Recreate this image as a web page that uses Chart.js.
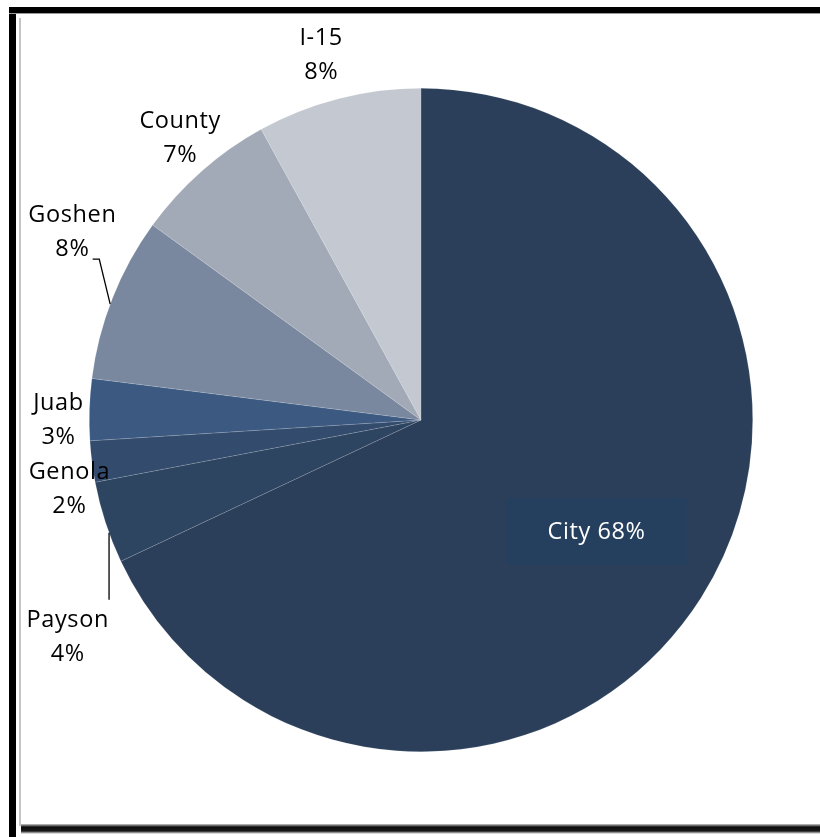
<!DOCTYPE html>
<html>
<head>
<meta charset="utf-8">
<script src="https://cdn.jsdelivr.net/npm/chart.js@4.4.1/dist/chart.umd.min.js"></script>
<style>
  html, body { margin: 0; padding: 0; background: #ffffff; }
  #wrap { width: 820px; height: 837px; position: relative; }
</style>
</head>
<body>
<div id="wrap"><canvas id="pie" width="820" height="837"></canvas></div>
<script>
// Share of the total, clockwise from 12 o'clock
const categories = ['City', 'Payson', 'Genola', 'Juab', 'Goshen', 'County', 'I-15'];
const shares = [68, 4, 2, 3, 8, 7, 8];
const sliceColors = ['#2b3f5a', '#2e4562', '#334b6c', '#3c5a81', '#7a889f', '#a3aab7', '#c3c8d1'];

// Outside label anchors, in units of the pie radius from its centre (line 1 centre)
const outsideLabelAt = {
  'Payson': [-1.065, 0.605],
  'Genola': [-1.060, 0.157],
  'Juab':   [-1.093, -0.051],
  'Goshen': [-1.051, -0.617],
  'County': [-0.726, -0.901],
  'I-15':   [-0.301, -1.150]
};

const FONT = '"Open Sans", "Noto Sans", sans-serif';

// Frame: black bars on the left/top, thin grey border and a drop shadow at the bottom
const framePlugin = {
  id: 'frame',
  beforeDraw(chart) {
    const ctx = chart.ctx;
    ctx.save();
    ctx.fillStyle = '#ffffff';
    ctx.fillRect(0, 0, chart.width, chart.height);
    ctx.fillStyle = '#000000';
    ctx.fillRect(9, 7, 7, chart.height - 7);
    ctx.fillRect(9, 7, chart.width - 9, 6);
    ctx.fillStyle = '#9a9a9a';
    ctx.fillRect(9, 13, chart.width - 9, 1);
    ctx.fillStyle = '#c4c4c4';
    ctx.fillRect(19, 18, 2, 808);
    const g = ctx.createLinearGradient(0, 824, 0, 834);
    g.addColorStop(0, 'rgba(0,0,0,0.2)');
    g.addColorStop(0.3, 'rgba(0,0,0,0.95)');
    g.addColorStop(0.7, 'rgba(0,0,0,0.9)');
    g.addColorStop(1, 'rgba(0,0,0,0.0)');
    ctx.fillStyle = g;
    ctx.fillRect(21, 824, chart.width - 21, 10);
    ctx.restore();
  }
};

// Category + percentage labels, leader lines and the boxed label inside the largest slice
const labelPlugin = {
  id: 'pieLabels',
  afterDatasetsDraw(chart) {
    const ctx = chart.ctx;
    const meta = chart.getDatasetMeta(0);
    const arc0 = meta.data[0];
    const cx = arc0.x, cy = arc0.y, R = arc0.outerRadius;
    const total = shares.reduce((a, b) => a + b, 0);
    ctx.save();
    ctx.textAlign = 'center';
    ctx.textBaseline = 'middle';
    ctx.letterSpacing = '0.6px';

    meta.data.forEach((arc, i) => {
      const name = categories[i];
      const pct = Math.round(shares[i] / total * 100) + '%';
      if (i === 0) {
        const mid = (arc.startAngle + arc.endAngle) / 2;
        const bx = cx + Math.cos(mid) * R * 0.627;
        const by = cy + Math.sin(mid) * R * 0.627;
        const w = 180, h = 67;
        ctx.fillStyle = '#25405f';
        ctx.beginPath();
        ctx.roundRect(bx - w / 2, by - h / 2, w, h, 4);
        ctx.fill();
        ctx.fillStyle = '#ffffff';
        ctx.font = '23.5px ' + FONT;
        ctx.fillText(name + ' ' + pct, bx, by + 1);
        return;
      }
      const p = outsideLabelAt[name];
      const lx = cx + p[0] * R, ly = cy + p[1] * R;
      ctx.fillStyle = '#000000';
      ctx.font = '23.5px ' + FONT;
      ctx.fillText(name, lx, ly);
      ctx.fillText(pct, lx, ly + 34);
    });

    // leader lines from the labels to their slices
    ctx.strokeStyle = '#000000';
    ctx.lineWidth = 1.3;
    const edge = (idx, frac) => {
      const a = meta.data[idx];
      const ang = a.startAngle + (a.endAngle - a.startAngle) * frac;
      return [cx + Math.cos(ang) * R, cy + Math.sin(ang) * R];
    };
    // Goshen
    const gE = edge(4, 0.46);
    ctx.beginPath();
    ctx.moveTo(cx - R * 0.990, cy - R * 0.485);
    ctx.lineTo(cx - R * 0.970, cy - R * 0.485);
    ctx.lineTo(gE[0], gE[1]);
    ctx.stroke();
    // Payson
    const pE = edge(1, 0.37);
    ctx.beginPath();
    ctx.moveTo(pE[0], pE[1]);
    ctx.lineTo(pE[0], cy + R * 0.542);
    ctx.stroke();
    ctx.restore();
  }
};

new Chart(document.getElementById('pie'), {
  type: 'pie',
  data: {
    labels: categories,
    datasets: [{
      data: shares,
      backgroundColor: sliceColors,
      borderColor: 'rgba(255,255,255,0.22)',
      borderWidth: 0.6
    }]
  },
  options: {
    responsive: false,
    animation: false,
    rotation: 0,
    layout: { padding: { left: 89, right: 67, top: 88, bottom: 85 } },
    plugins: {
      legend: { display: false },
      tooltip: { enabled: false },
      title: { display: false }
    }
  },
  plugins: [framePlugin, labelPlugin]
});
</script>
</body>
</html>
